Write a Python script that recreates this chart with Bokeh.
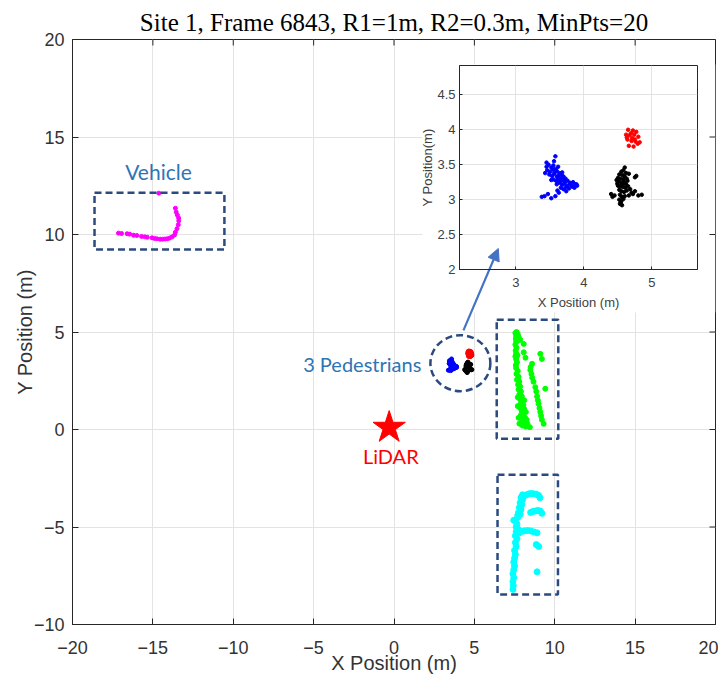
from bokeh.plotting import figure
from bokeh.models import (Range1d, FixedTicker, BoxAnnotation, Arrow, NormalHead, Label)
from bokeh.layouts import column
from bokeh.embed import file_html
from bokeh.resources import INLINE

# ---------------- data ----------------
title_text = "Site 1, Frame 6843, R1=1m, R2=0.3m, MinPts=20"
x_ticks = [-20, -15, -10, -5, 0, 5, 10, 15, 20]
y_ticks = [-10, -5, 0, 5, 10, 15, 20]
inset_x_ticks = [3, 4, 5]
inset_y_ticks = [2, 2.5, 3, 3.5, 4, 4.5]

vehicle_pts = [(-17.14, 10.07), (-16.95, 10.05), (-16.6, 10.04), (-16.45, 10.02), (-16.2, 9.96),
               (-16.0, 9.95), (-15.7, 9.9), (-15.5, 9.88), (-15.35, 9.86), (-15.05, 9.83),
               (-14.9, 9.8), (-14.75, 9.78), (-14.55, 9.76), (-14.4, 9.76), (-14.25, 9.77),
               (-14.1, 9.78), (-13.95, 9.82), (-13.8, 9.88), (-13.65, 9.98), (-13.6, 10.12),
               (-13.5, 10.3), (-13.42, 10.5), (-13.39, 10.7), (-13.4, 10.85), (-13.48, 11.0),
               (-13.55, 11.15), (-13.6, 11.35), (-14.63, 12.12)]

green_pts = [(7.55, 4.95), (7.62, 5.0), (7.7, 4.9), (7.6, 4.8), (7.75, 4.75), (7.58, 4.65),
             (7.85, 4.6), (8.07, 4.39), (7.6, 4.5), (7.55, 4.35), (7.62, 4.2), (7.57, 4.05),
             (8.07, 3.96), (7.6, 3.9), (7.55, 3.75), (8.18, 3.68), (7.6, 3.6), (7.65, 3.45),
             (7.58, 3.3), (8.59, 3.37), (8.5, 3.2), (7.6, 3.15), (8.48, 3.05), (7.7, 3.0),
             (7.62, 2.85), (8.55, 2.85), (7.75, 2.7), (8.6, 2.65), (7.65, 2.55), (7.8, 2.45),
             (8.68, 2.45), (7.72, 2.3), (7.85, 2.2), (8.79, 2.17), (9.41, 2.09), (7.75, 2.05),
             (7.9, 1.95), (8.85, 1.95), (7.8, 1.8), (7.95, 1.7), (8.9, 1.7), (7.85, 1.55),
             (8.0, 1.45), (8.95, 1.5), (7.9, 1.35), (8.05, 1.25), (8.99, 1.32), (7.85, 1.1),
             (8.1, 1.05), (9.05, 1.1), (7.95, 0.95), (8.2, 0.9), (9.1, 0.9), (7.9, 0.75),
             (8.05, 0.7), (9.15, 0.7), (8.0, 0.55), (8.25, 0.5), (9.2, 0.5), (7.95, 0.4),
             (8.1, 0.35), (9.31, 0.29), (8.0, 0.2), (8.2, 0.15), (8.45, 0.12), (9.1, 3.88),
             (9.2, 3.62), (7.7, 1.2), (7.75, 0.6), (8.15, 0.6), (7.8, 0.3), (8.3, 0.3),
             (7.7, 1.65), (8.1, 1.5), (7.68, 3.8), (7.7, 4.55)]

cyan_pts = [(8.0, -3.35), (8.1, -3.4), (8.25, -3.35), (8.4, -3.3), (8.55, -3.28), (8.7, -3.3),
            (8.85, -3.32), (9.0, -3.38), (9.08, -3.5), (7.9, -3.5), (8.0, -3.6), (7.85, -3.75),
            (7.95, -3.85), (7.8, -4.0), (7.9, -4.1), (7.75, -4.25), (7.85, -4.35), (7.7, -4.5),
            (7.45, -4.65), (7.55, -4.7), (7.65, -4.85), (7.6, -5.0), (7.7, -5.1), (7.6, -5.25),
            (7.8, -5.3), (7.95, -5.22), (8.1, -5.2), (8.3, -5.18), (8.5, -5.2), (8.7, -5.25),
            (8.9, -5.3), (7.55, -5.45), (7.65, -5.6), (7.55, -5.8), (7.6, -6.0), (7.5, -6.2),
            (7.55, -6.4), (7.5, -6.6), (7.45, -6.8), (7.5, -7.0), (7.45, -7.2), (7.4, -7.4),
            (7.45, -7.6), (7.4, -7.8), (7.42, -8.0), (7.4, -8.2), (8.5, -4.25), (8.65, -4.2),
            (8.8, -4.18), (8.95, -4.15), (9.1, -4.18), (9.2, -4.3), (8.85, -5.9), (9.0, -6.0),
            (8.9, -7.3), (7.95, -3.45), (7.7, -4.4)]

ped_blue_pts = [(3.58, 3.62), (3.45, 3.47), (3.48, 3.50), (3.52, 3.46), (3.55, 3.49), (3.58, 3.44),
                (3.62, 3.47), (3.46, 3.42), (3.50, 3.40), (3.54, 3.43), (3.57, 3.39), (3.60, 3.41),
                (3.64, 3.38), (3.67, 3.36), (3.49, 3.36), (3.53, 3.34), (3.56, 3.37), (3.60, 3.33),
                (3.63, 3.35), (3.66, 3.31), (3.70, 3.33), (3.73, 3.30), (3.55, 3.29), (3.59, 3.27),
                (3.62, 3.30), (3.65, 3.26), (3.69, 3.28), (3.72, 3.25), (3.76, 3.27), (3.80, 3.24),
                (3.60, 3.22), (3.64, 3.24), (3.68, 3.21), (3.71, 3.23), (3.75, 3.20), (3.79, 3.22),
                (3.83, 3.19), (3.87, 3.22), (3.90, 3.20), (3.66, 3.17), (3.70, 3.15), (3.74, 3.18),
                (3.78, 3.16), (3.82, 3.19), (3.86, 3.17), (3.89, 3.22), (3.42, 3.05), (3.38, 3.04),
                (3.47, 3.08), (3.52, 3.02), (3.58, 3.05), (3.63, 3.10), (3.45, 3.53), (3.56, 3.55),
                (3.68, 3.39), (3.74, 3.12), (3.84, 3.25), (3.61, 3.13), (3.52, 3.28), (3.43, 3.38)]

ped_red_pts = [(4.65, 4.00), (4.72, 3.99), (4.77, 3.97), (4.62, 3.93), (4.67, 3.92), (4.74, 3.93),
               (4.80, 3.90), (4.64, 3.86), (4.70, 3.84), (4.76, 3.83), (4.82, 3.82), (4.66, 3.77),
               (4.73, 3.76), (4.69, 3.95), (4.75, 3.86), (4.79, 3.80), (4.63, 3.89), (4.71, 3.88)]

ped_black_pts = [(4.60, 3.46), (4.58, 3.42), (4.55, 3.40), (4.62, 3.38), (4.52, 3.36), (4.57, 3.35),
                 (4.60, 3.33), (4.50, 3.31), (4.54, 3.30), (4.58, 3.29), (4.63, 3.30), (4.66, 3.37),
                 (4.77, 3.34), (4.75, 3.32), (4.51, 3.26), (4.55, 3.24), (4.59, 3.25), (4.62, 3.22),
                 (4.50, 3.20), (4.53, 3.19), (4.57, 3.18), (4.61, 3.17), (4.65, 3.19), (4.68, 3.15),
                 (4.52, 3.14), (4.55, 3.12), (4.59, 3.11), (4.63, 3.13), (4.70, 3.10), (4.75, 3.12),
                 (4.80, 3.06), (4.85, 3.07), (4.40, 3.08), (4.45, 3.06), (4.42, 3.04), (4.53, 3.07),
                 (4.56, 3.04), (4.60, 3.05), (4.66, 3.06), (4.52, 3.00), (4.55, 2.98), (4.58, 3.01),
                 (4.53, 2.94), (4.56, 2.92), (4.54, 2.96), (4.72, 3.08), (4.49, 3.23), (4.64, 3.27),
                 (4.57, 3.21), (4.48, 3.28)]

lidar_x = [-0.3]
lidar_y = [0.1]

# annotation boxes (vehicle, green object, cyan object)
box_left = [-18.63, 6.39, 6.44]
box_right = [-10.55, 10.22, 10.20]
box_top = [12.14, 5.63, -2.32]
box_bottom = [9.23, -0.48, -8.46]


def xs(pts):
    return [a for a, b in pts]


def ys(pts):
    return [b for a, b in pts]


NAVY = "#2B4A7F"
ANN_BLUE = "#2E75B6"
ARROW = "#4472C4"
AX = "#262626"
TICK_C = "#333333"
GRID = "#e3e3e3"

FW, FH = 643, 585
BL, BR, BT, BB = 72, 3, 39, 61
XMIN, XMAX, YMIN, YMAX = -20, 20, -10, 20

# ---------------- main figure ----------------
p = figure(frame_width=FW, frame_height=FH, x_range=Range1d(XMIN, XMAX),
           y_range=Range1d(YMIN, YMAX), output_backend="svg", toolbar_location=None,
           min_border_left=BL, min_border_right=BR, min_border_top=BT, min_border_bottom=BB)
p.title.text = title_text
p.title.text_font = "Liberation Serif"
p.title.text_font_size = "25px"
p.title.text_font_style = "normal"
p.title.text_color = "black"
p.title.align = "center"
p.title.standoff = 8
p.outline_line_color = AX
p.outline_line_width = 1

for ax, tks in ((p.xaxis[0], x_ticks), (p.yaxis[0], y_ticks)):
    ax.ticker = FixedTicker(ticks=tks)
    ax.major_tick_in = 6
    ax.major_tick_out = 0
    ax.minor_tick_in = 0
    ax.minor_tick_out = 0
    ax.axis_line_color = AX
    ax.major_tick_line_color = AX
    ax.major_label_text_font = "Liberation Sans"
    ax.major_label_text_font_size = "18px"
    ax.major_label_text_color = TICK_C
    ax.axis_label_text_font = "Liberation Sans"
    ax.axis_label_text_font_size = "20px"
    ax.axis_label_text_font_style = "normal"
    ax.axis_label_text_color = TICK_C
p.xaxis.axis_label = "X Position (m)"
p.yaxis.axis_label = "Y Position (m)"
p.xaxis.major_label_standoff = 16
p.xaxis.axis_label_standoff = -5
p.yaxis.major_label_standoff = 8
p.yaxis.axis_label_standoff = -5

# inward ticks on the top and right edges of the box (6 px long)
tick_dx = 6 * (XMAX - XMIN) / FW
tick_dy = 6 * (YMAX - YMIN) / FH
p.segment(x0=x_ticks, x1=x_ticks, y0=[YMAX] * len(x_ticks), y1=[YMAX - tick_dy] * len(x_ticks),
          line_color=AX, line_width=1)
p.segment(x0=[XMAX] * len(y_ticks), x1=[XMAX - tick_dx] * len(y_ticks), y0=y_ticks, y1=y_ticks,
          line_color=AX, line_width=1)

p.xgrid.ticker = FixedTicker(ticks=x_ticks)
p.ygrid.ticker = FixedTicker(ticks=y_ticks)
p.grid.grid_line_color = GRID

# white backing behind the inset
p.add_layout(BoxAnnotation(left=1.77, right=XMAX, top=18.72, bottom=6.0, fill_color="white",
                           fill_alpha=1, line_color=None, level="underlay"))

p.scatter(xs(vehicle_pts), ys(vehicle_pts), size=4, color="#ff00ff")
p.scatter(xs(green_pts), ys(green_pts), size=5, color="#00ff00")
p.scatter(xs(cyan_pts), ys(cyan_pts), size=6, color="#00ffff")
p.scatter(xs(ped_blue_pts), ys(ped_blue_pts), size=4, color="#0000ff")
p.scatter(xs(ped_red_pts), ys(ped_red_pts), size=5, color="#ff0000")
p.scatter(xs(ped_black_pts), ys(ped_black_pts), size=4, color="#000000")
p.scatter(lidar_x, lidar_y, marker="star", size=34, color="#ff0000")

p.quad(left=box_left, right=box_right, top=box_top, bottom=box_bottom, fill_color=None,
       line_color=NAVY, line_width=2.5, line_dash="7 4")
p.ellipse(x=[4.13], y=[3.40], width=[3.73], height=[2.87], fill_color=None,
          line_color=NAVY, line_width=2.5, line_dash="7 4")

p.add_layout(Label(x=-14.65, y=13.23, text="Vehicle", text_align="center",
                   text_baseline="middle", text_font="Lato", text_font_size="21px",
                   text_color=ANN_BLUE))
p.add_layout(Label(x=1.70, y=3.38, text="3 Pedestrians", text_align="right",
                   text_baseline="middle", text_font="Lato", text_font_size="20px",
                   text_color=ANN_BLUE))
p.add_layout(Label(x=-0.2, y=-1.38, text="LiDAR", text_align="center",
                   text_baseline="middle", text_font="Lato", text_font_size="20px",
                   text_color="#ff0000"))
p.add_layout(Arrow(end=NormalHead(size=12, fill_color=ARROW, line_color=ARROW),
                   x_start=4.32, y_start=5.08, x_end=6.49, y_end=9.28,
                   line_color=ARROW, line_width=2.2))

# ---------------- inset ----------------
IBL, IBR, IBT, IBB = 70, 17, 2, 44
ins = figure(width=IBL + 240 + IBR, height=IBT + 204 + IBB, x_range=Range1d(2.17, 5.67),
             y_range=Range1d(2, 4.92), output_backend="svg", toolbar_location=None,
             min_border_left=IBL, min_border_right=IBR, min_border_top=IBT,
             min_border_bottom=IBB, background_fill_color=None, border_fill_color=None)
ins.outline_line_color = AX
for ax, tks in ((ins.xaxis[0], inset_x_ticks), (ins.yaxis[0], inset_y_ticks)):
    ax.ticker = FixedTicker(ticks=tks)
    ax.major_tick_in = 3
    ax.major_tick_out = 0
    ax.minor_tick_in = 0
    ax.minor_tick_out = 0
    ax.axis_line_color = AX
    ax.major_tick_line_color = AX
    ax.major_label_text_font = "Liberation Sans"
    ax.major_label_text_font_size = "13px"
    ax.major_label_text_color = "#404040"
    ax.axis_label_text_font = "Liberation Sans"
    ax.axis_label_text_font_size = "13px"
    ax.axis_label_text_font_style = "normal"
    ax.axis_label_text_color = "#404040"
ins.xaxis.axis_label = "X Position (m)"
ins.yaxis.axis_label = "Y Position(m)"
ins.xaxis.major_label_standoff = 8
ins.xaxis.axis_label_standoff = 5
ins.yaxis.major_label_standoff = 4
ins.yaxis.axis_label_standoff = -1
ins.xgrid.ticker = FixedTicker(ticks=inset_x_ticks)
ins.ygrid.ticker = FixedTicker(ticks=inset_y_ticks)
ins.grid.grid_line_color = GRID

ins.scatter(xs(ped_blue_pts), ys(ped_blue_pts), size=3.5, color="#0000ff")
ins.scatter(xs(ped_red_pts), ys(ped_red_pts), size=3.5, color="#ff0000")
ins.scatter(xs(ped_black_pts), ys(ped_black_pts), size=3.5, color="#000000")

ins.styles = {"position": "absolute", "left": "387px", "top": "63px"}

layout = column(p, ins)
open("out.html", "w").write(file_html(layout, INLINE))
